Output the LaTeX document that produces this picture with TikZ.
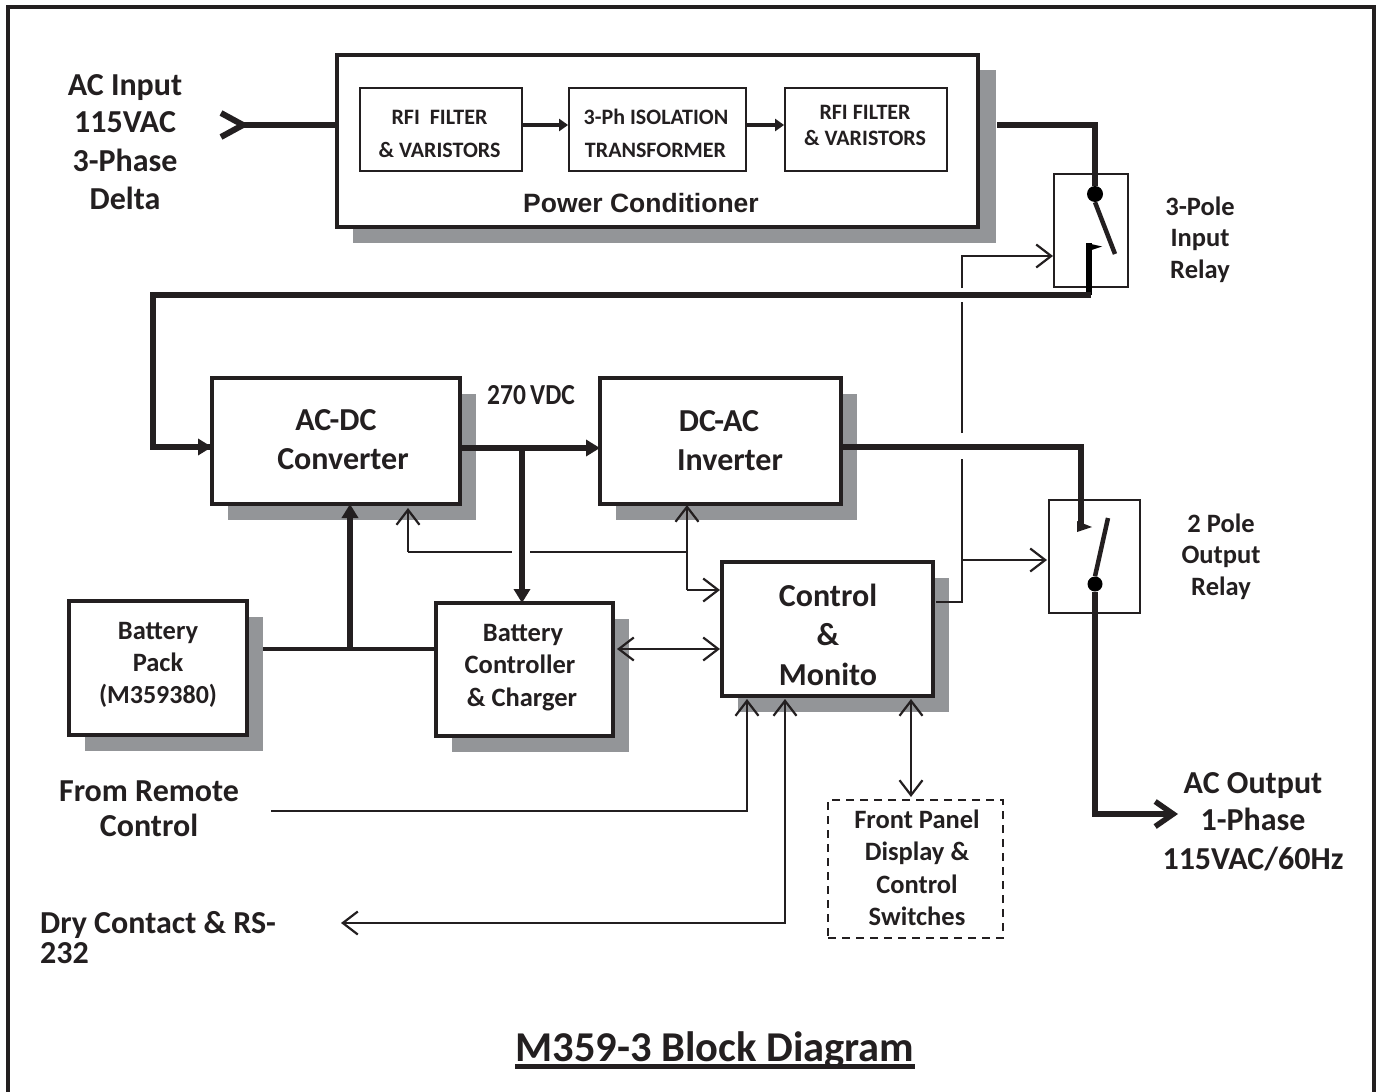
\documentclass[tikz,border=0pt]{standalone}
\usepackage{fontspec}
\setmainfont{Carlito}
\newfontfamily\arialf{Liberation Sans}
\usetikzlibrary{arrows.meta,shadows,calc}
\definecolor{ink}{HTML}{231F20}
\definecolor{shgray}{HTML}{939598}
\tikzset{
  x=1pt,y=-1pt,
  wire/.style={draw=ink,line width=2.2pt,line join=miter},
  thick wire/.style={draw=ink,line width=5.8pt,line join=miter},
  open/.style={-{Straight Barb[length=15pt,width=23pt,line width=2.2pt]}},
  both open/.style={{Straight Barb[length=15pt,width=23pt,line width=2.2pt]}-{Straight Barb[length=15pt,width=23pt,line width=2.2pt]}},
  solid tip/.style={-{Triangle[length=14pt,width=16pt]}},
  small tip/.style={-{Triangle[length=9pt,width=12pt]}},
  blockbase/.style={rectangle,draw=ink,fill=white,inner sep=0pt,outer sep=0pt,line width=3.5pt},
  block/.style={blockbase,general shadow={fill=shgray,shadow xshift=16pt,shadow yshift=-16pt}},
  big block/.style={blockbase,line width=4pt,general shadow={fill=shgray,shadow xshift=16.5pt,shadow yshift=-15.5pt,shadow scale=1.003}},
  inner block/.style={rectangle,draw=ink,fill=white,inner sep=0pt,line width=1.8pt},
  relay/.style={rectangle,draw=ink,inner sep=0pt,line width=1.4pt},
  lab/.style={inner sep=0pt,text=ink},
  sz/.style={font=\fontsize{#1pt}{#1pt}\selectfont\bfseries,text height=0.63*#1 pt,text depth=0pt},
  dotn/.style={circle,fill=black,inner sep=0pt,minimum size=#1pt},
}
\begin{document}
\begin{tikzpicture}
\useasboundingbox (0,0) rectangle (1377,1092);
% frame
\coordinate (fbl) at (8,1095); \coordinate (ftl) at (8,7);
\coordinate (ftr) at (1374,7); \coordinate (fbr) at (1374,1095);
\draw[draw=ink,line width=4.5pt,line join=miter] (fbl) -- (ftl) -- (ftr) -- (fbr);

% blocks
\node[big block,minimum width=641pt,minimum height=172pt] (pc) at (657.5,141) {};
\node[inner block,minimum width=162pt,minimum height=83pt] (rf1) at (441,129.5) {};
\node[inner block,minimum width=177pt,minimum height=83pt] (iso) at (657.5,129.5) {};
\node[inner block,minimum width=162pt,minimum height=83pt] (rf2) at (866,129.5) {};
\node[block,minimum width=248pt,minimum height=126pt] (acdc) at (336,441) {};
\node[block,minimum width=241pt,minimum height=126pt] (dcac) at (720.5,441) {};
\node[block,minimum width=178pt,minimum height=134pt] (batt) at (158,668) {};
\node[block,minimum width=177pt,minimum height=133pt] (chg) at (524.5,669.5) {};
\node[block,minimum width=211pt,minimum height=134pt] (ctl) at (827.5,629) {};
\node[rectangle,draw=ink,dash pattern=on 8pt off 6pt,line width=2.7pt,inner sep=0pt,minimum width=175pt,minimum height=138pt] (fp) at (915.5,869) {};
\node[relay,minimum width=74pt,minimum height=113pt] (r1) at (1091,230.5) {};
\node[relay,minimum width=91pt,minimum height=113pt] (r2) at (1094.5,556.5) {};

% coordinates of the wiring
\coordinate (inY) at (243,125);
\coordinate (inA) at (221,113); \coordinate (inB) at (221,137);
\coordinate (pcout) at (997,125); \coordinate (k1) at (1095,125);
\node[dotn=16] (d1) at (1095,194) {};
\coordinate (b1) at (1115,254);
\coordinate (c1) at (1089,243);
\coordinate (c1b) at (1089,295); \coordinate (w1) at (153,295); \coordinate (w2) at (153,447);
\coordinate (acin) at (212,447);
\coordinate (dcout) at (841,447); \coordinate (k2) at (1081,447); \coordinate (c2) at (1081,530);
\node[dotn=15] (d2) at (1095,584) {};
\coordinate (b2) at (1108,518);
\coordinate (k3) at (1095,814); \coordinate (acout) at (1178,814);
\coordinate (bus) at (522,448);
\coordinate (battj) at (350,649); \coordinate (battout) at (263,649);
\coordinate (f1) at (408,508); \coordinate (f2) at (408,552); \coordinate (f3) at (512,552);
\coordinate (f4) at (530,552); \coordinate (f5) at (687,552); \coordinate (f6) at (687,505);
\coordinate (f7) at (687,590); \coordinate (f8) at (720,590);
\coordinate (s1) at (936,602); \coordinate (s2) at (962,602); \coordinate (s3) at (962,459);
\coordinate (s4) at (962,433); \coordinate (s5) at (962,302);
\coordinate (s6) at (962,288); \coordinate (s7) at (962,256); \coordinate (s8) at (1053,256);
\coordinate (s9) at (962,560); \coordinate (s10) at (1047,560);
\coordinate (cc1) at (617,649); \coordinate (cc2) at (720,649);
\coordinate (rm1) at (271,811); \coordinate (rm2) at (747,811); \coordinate (rm3) at (747,699);
\coordinate (dy1) at (785,699); \coordinate (dy2) at (785,923); \coordinate (dy3) at (341,923);
\coordinate (fp1) at (911,699); \coordinate (fp2) at (911,797);

% heavy wiring
\draw[thick wire] (inY) -- (pc.west |- inY);
\draw[draw=ink,line width=6pt,line join=miter,miter limit=2] (inA) -- (inY) -- (inB);
\draw[draw=ink,line width=4pt,small tip] (rf1.east |- inY) -- (iso.west |- inY);
\draw[draw=ink,line width=4pt,small tip] (iso.east |- inY) -- (rf2.west |- inY);
\draw[thick wire] (pcout) -- (k1) -- (d1);
\draw[draw=ink,line width=4.5pt] (d1.south) -- (b1);
\draw[draw=black,line width=5.5pt] (c1b) -- (c1);
\fill[black] (1086.5,243) -- (1102,246.5) -- (1091.5,250) -- cycle;
\draw[thick wire] (c1b -| r1.center) -- (c1b) -- (w1) -- (w2) -- (acin);
\draw[thick wire,solid tip] (w2) -- (acin);
\draw[thick wire] (dcout) -- (k2) -- (c2);
\fill[ink] (1077,521) -- (1092,527) -- (1077,532) -- cycle;
\draw[draw=ink,line width=4.5pt] (d2.north) -- (b2);
\draw[thick wire,-{Straight Barb[length=18pt,width=25pt,line width=5.5pt]}] (d2) -- (k3) -- (acout);
\draw[thick wire,solid tip] (acdc.east |- bus) -- (dcac.west |- bus);
\draw[thick wire,solid tip] (bus) -- (bus |- chg.north);
\draw[draw=ink,line width=4pt] (battout) -- (chg.west |- battj);
\draw[thick wire,solid tip] (battj) -- (battj |- acdc.south);

% control wiring
\draw[wire,open] (f2) -- (f1);
\draw[wire] (f2) -- (f3);
\draw[wire] (f4) -- (f5);
\draw[wire,open] (f7) -- (f6);
\draw[wire,open] (f7) -- (f8);
\draw[wire] (s1) -- (s2) -- (s3);
\draw[wire] (s4) -- (s5);
\draw[wire,open] (s6) -- (s7) -- (s8);
\draw[wire,open] (s9) -- (s10);
\draw[wire,both open] (cc1) -- (cc2);
\draw[wire,open] (rm1) -- (rm2) -- (rm3);
\draw[wire,both open] (dy3) -- (dy2) -- (dy1);
\draw[wire,both open] (fp1) -- (fp2);

% labels
\node[lab,sz=32] (t1) at (125,85) {AC Input};
\node[lab,sz=32] (t2) at (125,122) {115VAC};
\node[lab,sz=32] (t3) at (125,161) {3-Phase};
\node[lab,sz=32] (t4) at (125,199) {Delta};
\node[lab,sz=22] (t5) at (439.5,118) {RFI\ \ FILTER};
\node[lab,sz=22] (t6) at (439.5,151) {\&\ VARISTORS};
\node[lab,sz=22] (t7) at (656,118) {3-Ph ISOLATION};
\node[lab,sz=22] (t8) at (655.5,151) {TRANSFORMER};
\node[lab,sz=22] (t9) at (865,113) {RFI FILTER};
\node[lab,sz=22] (t10) at (865,139) {\&\ VARISTORS};
\node[lab,font=\arialf\fontsize{26.5pt}{26.5pt}\selectfont\bfseries,text height=18pt,text depth=0pt] (t11) at (641,203) {Power Conditioner};
\node[lab,sz=29,xscale=0.88] (t12) at (531,395) {270\,VDC};
\node[lab,sz=32] (t13) at (336,420) {AC-DC};
\node[lab,sz=32] (t14) at (343,459) {Converter};
\node[lab,sz=32] (t15) at (719,421) {DC-AC};
\node[lab,sz=32] (t16) at (730,460) {Inverter};
\node[lab,sz=26.5] (t17) at (158,631) {Battery};
\node[lab,sz=26.5] (t18) at (158,663) {Pack};
\node[lab,sz=26] (t19) at (158,695) {(M359380)};
\node[lab,sz=26.5] (t20) at (523,633) {Battery};
\node[lab,sz=26.5] (t21) at (520,665) {Controller};
\node[lab,sz=26.5] (t22) at (522,698) {\&\ Charger};
\node[lab,sz=32] (t23) at (828,596) {Control};
\node[lab,sz=32] (t24) at (828,635) {\&};
\node[lab,sz=32] (t25) at (828,675) {Monito};
\node[lab,sz=26.5] (t26) at (917,820) {Front Panel};
\node[lab,sz=26.5] (t27) at (917,852) {Display \&};
\node[lab,sz=26.5] (t28) at (917,885) {Control};
\node[lab,sz=26.5] (t29) at (917,917) {Switches};
\node[lab,sz=26.5] (t30) at (1200,207) {3-Pole};
\node[lab,sz=26.5] (t31) at (1200,238) {Input};
\node[lab,sz=26.5] (t32) at (1200,270) {Relay};
\node[lab,sz=26.5] (t33) at (1221,524) {2 Pole};
\node[lab,sz=26.5] (t34) at (1221,555) {Output};
\node[lab,sz=26.5] (t35) at (1221,587) {Relay};
\node[lab,sz=32] (t36) at (149,791) {From Remote};
\node[lab,sz=32] (t37) at (149,826) {Control};
\node[lab,sz=32,anchor=west] (t38) at (40,923) {Dry Contact \&\ RS-};
\node[lab,sz=32,anchor=west] (t39) at (40,953) {232};
\node[lab,sz=32] (t40) at (1253,783) {AC Output};
\node[lab,sz=32] (t41) at (1253,820) {1-Phase};
\node[lab,sz=32] (t42) at (1253,859) {115VAC/60Hz};
\node[lab,sz=42.5] (t43) at (715,1048) {M359-3 Block Diagram};
\draw[draw=ink,line width=4.5pt] ($(t43.south west)+(0,5)$) -- ($(t43.south east)+(0,5)$);
\end{tikzpicture}
\end{document}
